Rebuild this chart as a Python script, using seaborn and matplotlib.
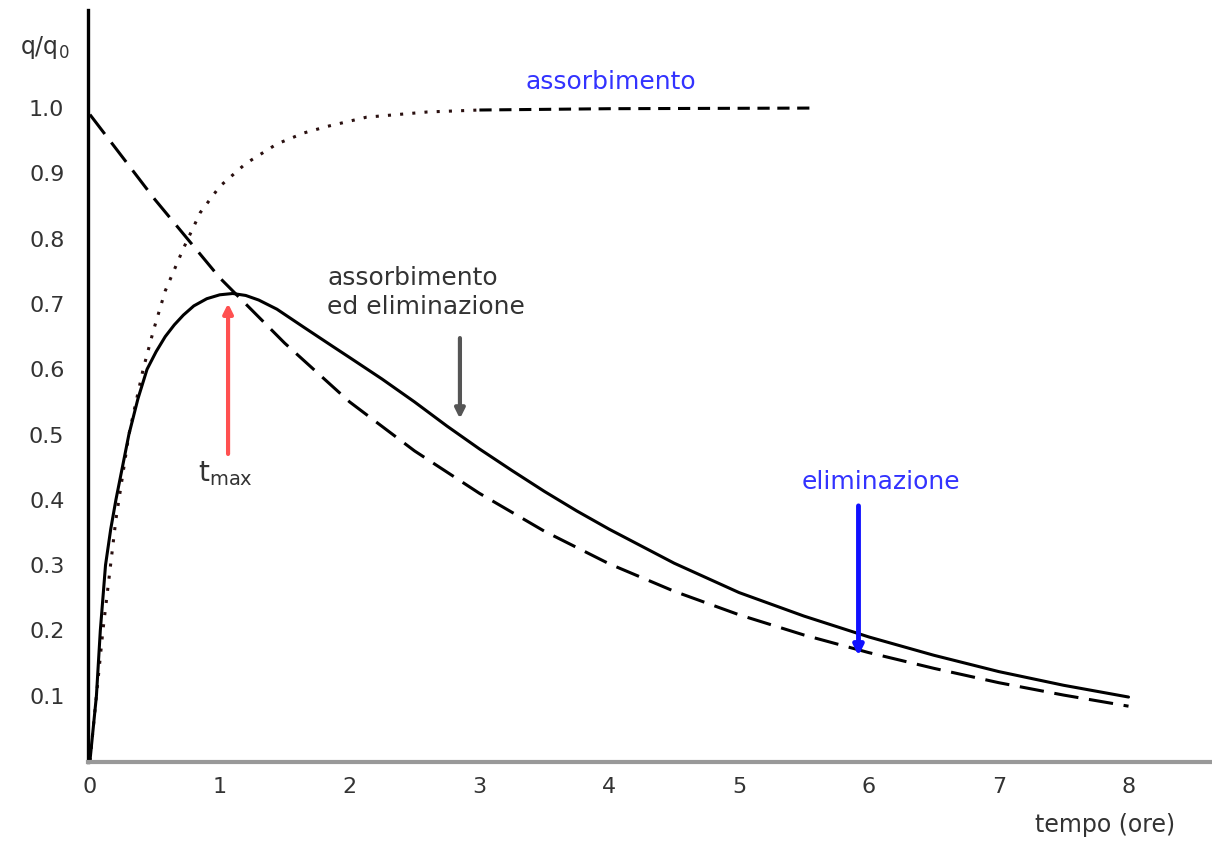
import numpy as np
import pandas as pd
import seaborn as sns
import matplotlib.pyplot as plt

sns.set_style("white")
plt.rcParams['font.family'] = ['DejaVu Sans']

# values (tempo in ore, q/q0)
t_combined = [0.0, 0.03, 0.05, 0.08, 0.12, 0.16, 0.2, 0.25, 0.3, 0.37, 0.44, 0.51, 0.58, 0.65,
              0.72, 0.8, 0.9, 1.0, 1.1, 1.2, 1.3, 1.44, 1.65, 1.87, 2.0, 2.25, 2.5, 2.75, 3.0,
              3.25, 3.5, 3.75, 4.0, 4.5, 5.0, 5.5, 6.0, 6.5, 7.0, 7.5, 8.0]
q_combined = [0.0, 0.06, 0.1, 0.2, 0.3, 0.355, 0.4, 0.45, 0.5, 0.555, 0.6, 0.627, 0.65, 0.668,
              0.683, 0.697, 0.708, 0.714, 0.716, 0.713, 0.706, 0.692, 0.664, 0.635, 0.618,
              0.585, 0.55, 0.513, 0.478, 0.445, 0.413, 0.383, 0.355, 0.303, 0.258, 0.222,
              0.19, 0.162, 0.137, 0.116, 0.098]

t_elim = [0.0, 0.5, 1.0, 1.5, 2.0, 2.5, 3.0, 3.5, 4.0, 4.5, 5.0, 5.5, 6.0, 6.5, 7.0, 7.5, 8.0]
q_elim = [0.99, 0.86, 0.74, 0.64, 0.55, 0.475, 0.41, 0.352, 0.302, 0.26, 0.224, 0.193, 0.166,
          0.142, 0.12, 0.101, 0.084]

t_abs = [0.0, 0.05, 0.1, 0.2, 0.3, 0.41, 0.49, 0.58, 0.72, 0.85, 1.0, 1.2, 1.44, 1.65, 1.83,
         2.13, 2.6, 3.0]
q_abs = [0.0, 0.1, 0.2, 0.37, 0.5, 0.6, 0.66, 0.72, 0.785, 0.84, 0.88, 0.915, 0.945, 0.962,
         0.972, 0.986, 0.994, 0.997]
t_abs_tail = [3.0, 4.0, 5.6]
q_abs_tail = [0.997, 0.999, 1.0]

x_ticks = [0, 1, 2, 3, 4, 5, 6, 7, 8]
y_ticks = [0.1, 0.2, 0.3, 0.4, 0.5, 0.6, 0.7, 0.8, 0.9, 1.0]

df_comb = pd.DataFrame({'tempo': t_combined, 'q': q_combined})
df_elim = pd.DataFrame({'tempo': t_elim, 'q': q_elim})
df_abs = pd.DataFrame({'tempo': t_abs, 'q': q_abs})
df_abs_tail = pd.DataFrame({'tempo': t_abs_tail, 'q': q_abs_tail})

fig = plt.figure(figsize=(12.12, 8.42), dpi=100)
ax = fig.add_axes([0.0726, 0.095, 0.926, 0.893])

sns.lineplot(data=df_abs, x='tempo', y='q', ax=ax, color='#2a1010', lw=2.2, ls=(0, (1, 3)))
sns.lineplot(data=df_abs_tail, x='tempo', y='q', ax=ax, color='black', lw=2.2, ls=(0, (4, 2.5)))
sns.lineplot(data=df_elim, x='tempo', y='q', ax=ax, color='black', lw=2.2, ls=(0, (8, 3.5)))
sns.lineplot(data=df_comb, x='tempo', y='q', ax=ax, color='black', lw=2.2)

ax.set_xlim(-0.015, 8.63)
ax.set_ylim(-0.0015, 1.15)
ax.set_xticks(x_ticks)
ax.set_xticklabels([str(v) for v in x_ticks])
ax.set_yticks(y_ticks)
ax.set_yticklabels(['%.1f' % v for v in y_ticks])
ax.set_xlabel('')
ax.set_ylabel('')

for s in ['top', 'right']:
    ax.spines[s].set_visible(False)
ax.spines['left'].set_color('black')
ax.spines['left'].set_linewidth(2.4)
ax.spines['bottom'].set_color('#999999')
ax.spines['bottom'].set_linewidth(3)

ax.tick_params(axis='y', direction='in', length=8, width=2, color='#444444', pad=17,
               labelsize=16, labelcolor='#333333')
ax.tick_params(axis='x', direction='in', length=5, width=2, color='#888888', pad=11,
               labelsize=16, labelcolor='#333333')

# annotations
ax.text(4.015, 1.04, 'assorbimento', color='#3333ff', fontsize=18, ha='center', va='center')
ax.text(1.827, 0.717, 'assorbimento\ned eliminazione', color='#333333', fontsize=18,
        ha='left', va='center', linespacing=1.25)
ax.text(6.09, 0.427, 'eliminazione', color='#3333ff', fontsize=18, ha='center', va='center')
ax.text(0.832, 0.44, r'$\mathrm{t_{max}}$', color='#333333', fontsize=20, ha='left', va='center')

ax.annotate('', xy=(1.064, 0.705), xytext=(1.064, 0.466),
            arrowprops=dict(arrowstyle='-|>', lw=3, color='#ff5050', mutation_scale=14))
ax.annotate('', xy=(2.85, 0.52), xytext=(2.85, 0.652),
            arrowprops=dict(arrowstyle='-|>', lw=3, color='#555555', mutation_scale=14))
ax.annotate('', xy=(5.92, 0.157), xytext=(5.92, 0.395),
            arrowprops=dict(arrowstyle='-|>', lw=3.5, color='#1010ff', mutation_scale=14))

fig.text(0.037, 0.943, r'$\mathrm{q/q_0}$', color='#333333', fontsize=17, ha='center', va='center')
fig.text(0.912, 0.020, 'tempo (ore)', color='#333333', fontsize=17, ha='center', va='center')

plt.savefig('out.png', dpi=100)
